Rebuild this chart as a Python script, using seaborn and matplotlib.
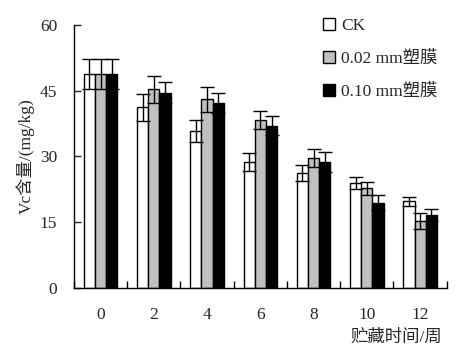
import numpy as np
import pandas as pd
import matplotlib
matplotlib.use("Agg")
import matplotlib.pyplot as plt
import seaborn as sns
from matplotlib.patches import Patch

weeks = ["0", "2", "4", "6", "8", "10", "12"]
series = ["CK", "0.02 mm塑膜", "0.10 mm塑膜"]
ck = [48.8, 41.2, 35.8, 28.7, 26.2, 23.9, 19.8]
ck_err = [3.4, 3.1, 2.5, 2.0, 1.8, 1.4, 1.0]
pe02 = [48.8, 45.3, 43.0, 38.3, 29.6, 22.7, 15.2]
pe02_err = [3.4, 3.0, 2.8, 2.1, 2.0, 1.4, 1.8]
pe10 = [48.8, 44.5, 42.2, 37.0, 28.7, 19.4, 16.6]
pe10_err = [3.4, 2.4, 2.3, 2.2, 2.3, 1.7, 1.4]
colors = ["white", "#c0c0c0", "black"]

df = pd.DataFrame({
    "week": weeks * 3,
    "group": sum([[s] * len(weeks) for s in series], []),
    "value": ck + pe02 + pe10,
    "err": ck_err + pe02_err + pe10_err,
})

sns.set_style("ticks")
plt.rcParams["font.family"] = ["Liberation Serif", "Noto Sans CJK SC"]

fig = plt.figure(figsize=(4.62, 3.52), dpi=100)
ax = fig.add_axes([0.160, 0.182, 0.807, 0.747])

sns.barplot(data=df, x="week", y="value", hue="group", order=weeks,
            hue_order=series, palette=colors, errorbar=None, width=0.63,
            edgecolor="black", linewidth=1.0, saturation=1, ax=ax, legend=False)

for i, s in enumerate(series):
    cont = ax.containers[i]
    sub = df[df["group"] == s].set_index("week").loc[weeks]
    xs = [p.get_x() + p.get_width() / 2 for p in cont.patches]
    ys = [p.get_height() for p in cont.patches]
    ax.errorbar(xs, ys, yerr=sub["err"].values, fmt="none", ecolor="black",
                elinewidth=1.0, capsize=5, capthick=1.0, zorder=5)

ax.set_ylim(0, 60)
ax.set_yticks([0, 15, 30, 45, 60])
ax.set_xlim(-0.5, 6.5)
ax.set_xticks(range(len(weeks)))
ax.set_xticklabels(weeks)
ax.set_xticks(np.arange(-0.5, 7, 1), minor=True)
ax.tick_params(axis="x", which="major", length=0, pad=14, labelsize=12.5)
ax.tick_params(axis="x", which="minor", direction="in", length=5, width=1, color="black")
ax.tick_params(axis="y", direction="in", length=5, width=1, labelsize=12.5, pad=12)
for sp in ["top", "right"]:
    ax.spines[sp].set_visible(False)
for sp in ["left", "bottom"]:
    ax.spines[sp].set_linewidth(1.0)
    ax.spines[sp].set_color("black")

ax.set_xlabel("")
ax.set_ylabel("Vc含量/(mg/kg)", fontsize=12.5, labelpad=4)
fig.text(0.957, 0.040, "贮藏时间/周", ha="right", va="center", fontsize=12.5)

handles = [Patch(facecolor=c, edgecolor="black", linewidth=1.0) for c in colors]
ax.legend(handles, series, loc="upper left", bbox_to_anchor=(0.625, 1.085),
          frameon=False, fontsize=12.5, handlelength=0.7, handleheight=0.7,
          handletextpad=0.35, labelspacing=0.95)

fig.savefig("out.png", dpi=100)
